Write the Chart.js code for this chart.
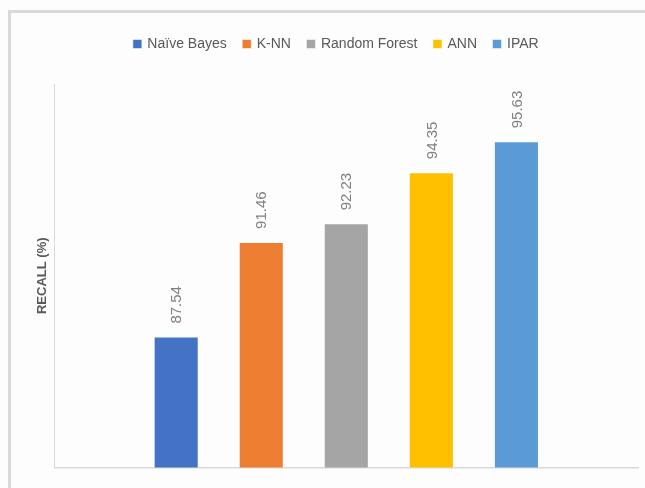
<!DOCTYPE html>
<html>
<head>
<meta charset="utf-8">
<script src="https://cdn.jsdelivr.net/npm/chart.js@4/dist/chart.umd.min.js"></script>
<style>
html,body{margin:0;padding:0;background:#fdfdfd;}
#wrap{position:absolute;left:0;top:0;width:645px;height:488px;}
</style>
</head>
<body>
<div id="wrap"><canvas id="c" width="645" height="488"></canvas></div>
<script>
const categories = [''];
const seriesNames = ['Naïve Bayes', 'K-NN', 'Random Forest', 'ANN', 'IPAR'];
const recallValues = [87.54, 91.46, 92.23, 94.35, 95.63];
const seriesColors = ['#4472C4', '#ED7D31', '#A5A5A5', '#FFC000', '#5B9BD5'];
const yTitle = 'RECALL (%)';

const frame = {
  id: 'frame',
  beforeDraw(chart) {
    const ctx = chart.ctx;
    ctx.save();
    ctx.fillStyle = '#fdfdfd';
    ctx.fillRect(0, 0, chart.width, chart.height);
    ctx.fillStyle = '#d9d9d9';
    ctx.fillRect(8, 10, 3, chart.height - 10);
    ctx.fillRect(8, 10, chart.width - 8, 3);
    ctx.restore();
  }
};

const legendGap = {
  id: 'legendGap',
  beforeInit(chart) {
    const origFit = chart.legend.fit;
    chart.legend.fit = function () {
      origFit.call(this);
      this.height += 23;
    };
  },
  afterLayout(chart) {
    chart.legend.left += 6;
    chart.legend.right += 6;
  }
};

const valueLabels = {
  id: 'valueLabels',
  afterDatasetsDraw(chart) {
    const ctx = chart.ctx;
    ctx.save();
    ctx.fillStyle = '#808080';
    ctx.font = '15px "Liberation Sans", Arial, sans-serif';
    ctx.textAlign = 'left';
    ctx.textBaseline = 'middle';
    chart.data.datasets.forEach((ds, i) => {
      const meta = chart.getDatasetMeta(i);
      meta.data.forEach((el, j) => {
        ctx.save();
        ctx.translate(el.x + 1, el.y - 13);
        ctx.rotate(-Math.PI / 2);
        ctx.fillText(ds.data[j].toFixed(2), 0, 0);
        ctx.restore();
      });
    });
    ctx.restore();
  }
};

new Chart(document.getElementById('c'), {
  type: 'bar',
  data: {
    labels: categories,
    datasets: seriesNames.map((name, i) => ({
      label: name,
      data: [recallValues[i]],
      backgroundColor: seriesColors[i],
      borderColor: 'rgba(255,255,255,0.5)',
      borderWidth: 1,
      categoryPercentage: 0.729,
      barPercentage: 0.53
    }))
  },
  options: {
    responsive: false,
    animation: false,
    devicePixelRatio: 1,
    layout: { padding: { left: 23, right: 7, top: 20, bottom: 12.5 } },
    plugins: {
      legend: {
        position: 'top',
        labels: {
          usePointStyle: true,
          pointStyle: 'rect',
          boxWidth: 6,
          boxHeight: 9,
          padding: 17,
          color: '#595959',
          font: { size: 14, family: '"Liberation Sans", Arial, sans-serif' }
        }
      },
      tooltip: { enabled: false }
    },
    scales: {
      x: {
        ticks: { display: false },
        grid: { display: false },
        border: { display: true, color: '#d9d9d9', width: 1.5 }
      },
      y: {
        min: 82.12,
        max: 98,
        ticks: { display: false },
        grid: { display: false },
        border: { display: true, color: '#d9d9d9', width: 1 },
        title: {
          display: true,
          text: yTitle,
          color: '#595959',
          font: { size: 13, weight: 'bold', family: '"Liberation Sans", Arial, sans-serif' },
          padding: { top: 12, bottom: -4 }
        }
      }
    }
  },
  plugins: [frame, legendGap, valueLabels]
});
</script>
</body>
</html>
